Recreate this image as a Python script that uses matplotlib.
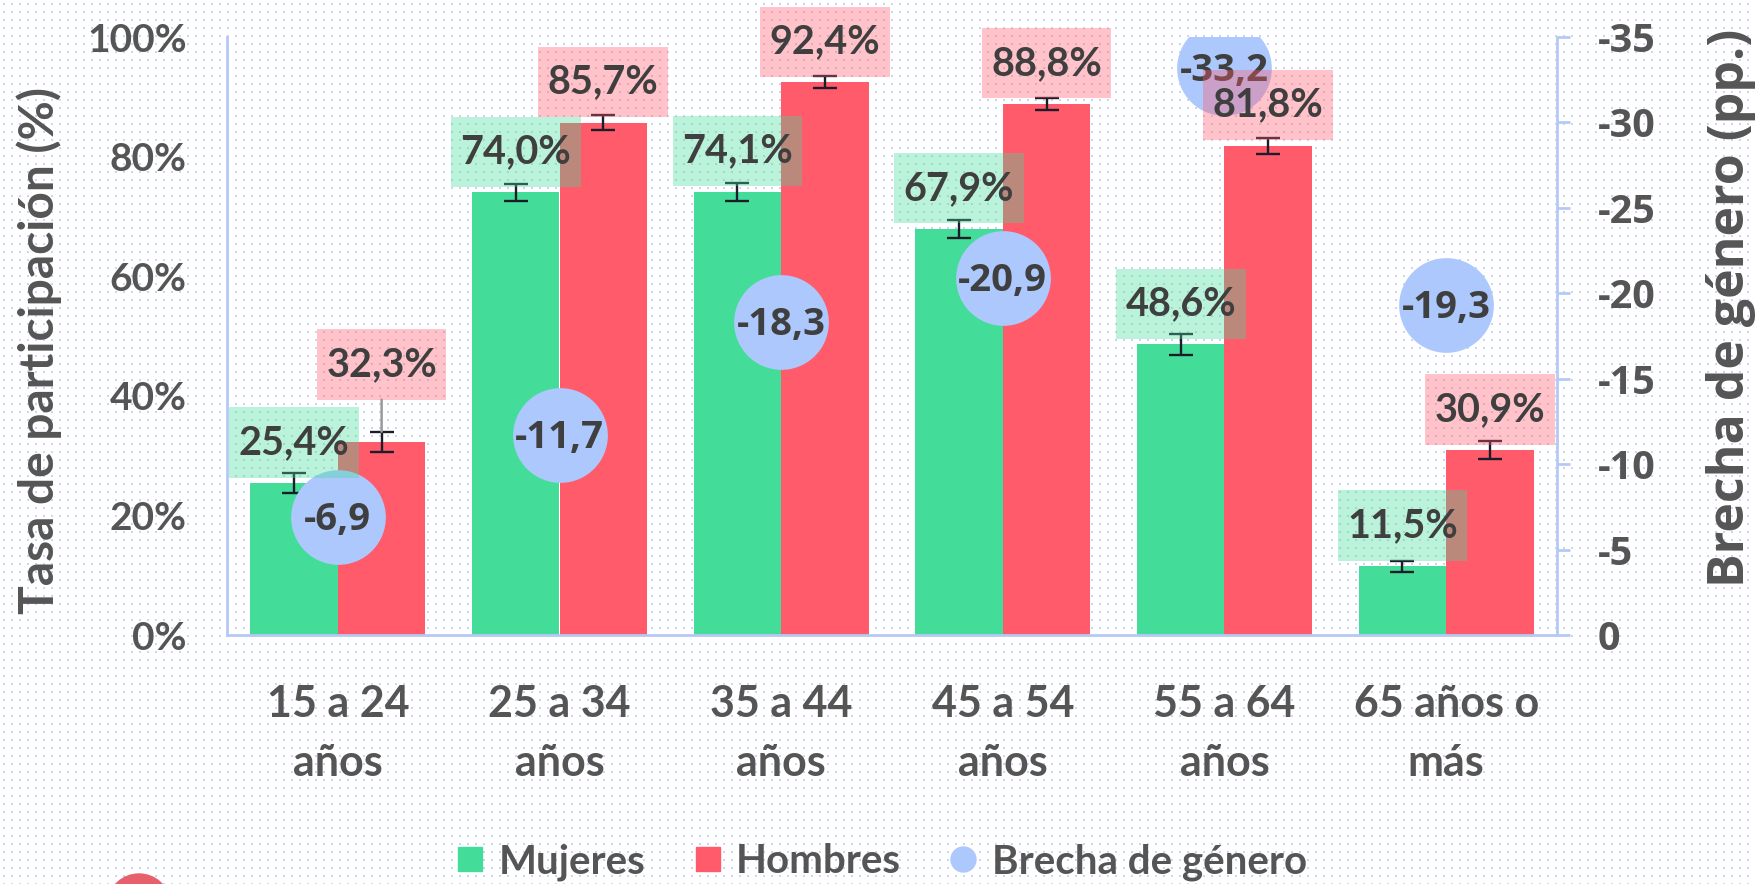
import numpy as np
import matplotlib
matplotlib.use("Agg")
import matplotlib.pyplot as plt
from matplotlib.lines import Line2D
from matplotlib.patches import Ellipse
from matplotlib.path import Path
from matplotlib import font_manager as fm

# ---------------- data ----------------
categories = ["15 a 24\naños", "25 a 34\naños", "35 a 44\naños",
              "45 a 54\naños", "55 a 64\naños", "65 años o\nmás"]
mujeres = [25.4, 74.0, 74.1, 67.9, 48.6, 11.5]
hombres = [32.3, 85.7, 92.4, 88.8, 81.8, 30.9]
err_mujeres = [1.7, 1.5, 1.5, 1.5, 1.7, 0.95]
err_hombres = [1.7, 1.25, 1.0, 1.0, 1.3, 1.5]
brecha = [-6.9, -11.7, -18.3, -20.9, -33.2, -19.3]
left_ticks = [0, 20, 40, 60, 80, 100]
right_ticks = [0, -5, -10, -15, -20, -25, -30, -35]
legend_labels = ["Mujeres", "Hombres", "Brecha de género"]

# label nudges (extra points upward) for repelled labels
nudge_hombres = {0: 19}

# ---------------- style ----------------
GREEN = "#43dd99"
RED = "#ff5b6b"
BLUE = "#adc8fd"
SPINE = "#b5c9f7"
TXT = "#3f3f3f"
TICK = "#555555"
SS = ["Lato", "DejaVu Sans"]


def bold_family(cands):
    for c in cands:
        try:
            p = fm.findfont(fm.FontProperties(family=c, weight="bold"),
                            fallback_to_default=False)
            if "bold" in p.lower():
                return c
        except Exception:
            pass
    return "DejaVu Sans"


NSB = [bold_family(["Noto Sans", "Open Sans", "Roboto"]), "DejaVu Sans"]


def label_box(x0, y0, width, height, mutation_size):
    padx = 0.24 * mutation_size
    pady = 0.42 * mutation_size
    x0 -= padx
    y0 -= pady
    w = width + 2 * padx
    h = height + 2 * pady
    return Path([(x0, y0), (x0 + w, y0), (x0 + w, y0 + h), (x0, y0 + h), (x0, y0)],
                closed=True)


W, H = 1756, 884
fig = plt.figure(figsize=(W / 100, H / 100), dpi=100)

# dotted background texture
bg = np.ones((H, W, 3))
dot = np.array([200, 214, 250]) / 255.0
for dy in range(2):
    for dx in range(2):
        bg[3 + dy::8, 3 + dx::8] = dot
bax = fig.add_axes([0, 0, 1, 1], zorder=-10)
bax.imshow(bg, interpolation="nearest", aspect="auto", extent=(0, W, H, 0))
bax.axis("off")
# cut-off logo blob bottom-left
bax.add_patch(Ellipse((139, 902), 60, 56, color="#e8606b", zorder=2))
bax.set_xlim(0, W)
bax.set_ylim(H, 0)

ax = fig.add_axes([227 / W, 1 - 635 / H, (1557 - 227) / W, (635 - 37) / H])
ax.patch.set_alpha(0)
x = np.arange(len(categories))
bw = 0.395

ax.bar(x - bw / 2, mujeres, bw, color=GREEN, zorder=2)
ax.bar(x + bw / 2, hombres, bw, color=RED, zorder=2)
ax.errorbar(x - bw / 2, mujeres, yerr=err_mujeres, fmt="none", ecolor="#1c1c2a",
            elinewidth=1.7, capsize=8.5, capthick=1.7, zorder=3)
ax.errorbar(x + bw / 2, hombres, yerr=err_hombres, fmt="none", ecolor="#1c1c2a",
            elinewidth=1.7, capsize=8.5, capthick=1.7, zorder=3)

ax.set_xlim(-0.5, len(categories) - 0.5)
ax.set_ylim(0, 100)
ax.set_yticks(left_ticks)
ax.set_yticklabels([f"{t}%" for t in left_ticks])
ax.set_xticks(x)
ax.set_xticklabels(categories, linespacing=1.58)
ax.tick_params(axis="y", length=0, pad=29, labelsize=28, labelcolor=TICK)
ax.tick_params(axis="x", length=0, pad=35, labelsize=31, labelcolor=TICK)
for lab in ax.get_yticklabels() + ax.get_xticklabels():
    lab.set_fontfamily(SS)
    lab.set_fontweight("bold")
for s in ["top", "right"]:
    ax.spines[s].set_visible(False)
for s in ["left", "bottom"]:
    ax.spines[s].set_color(SPINE)
    ax.spines[s].set_linewidth(2)
ax.set_ylabel("Tasa de participación (%)", fontsize=34.5, fontweight="bold",
              color=TICK, family=SS, va="center")
ax.yaxis.set_label_coords(-0.1414, 0.475)

ax2 = ax.twinx()
ax2.set_ylim(0, -35)
ax2.set_yticks(right_ticks)
ax2.set_yticklabels([str(t) for t in right_ticks])
ax2.tick_params(axis="y", length=9.5, width=2, color=SPINE, pad=20,
                labelsize=28.5, labelcolor=TICK)
for lab in ax2.get_yticklabels():
    lab.set_fontfamily(NSB)
    lab.set_fontweight("bold")
for s in ["top", "left", "bottom"]:
    ax2.spines[s].set_visible(False)
ax2.spines["right"].set_color(SPINE)
ax2.spines["right"].set_linewidth(2)
ax2.set_ylabel("Brecha de género (pp.)", fontsize=36, fontweight="bold",
               color=TICK, family=NSB, va="center", rotation=90)
ax2.yaxis.set_label_coords(1.131, 0.547)

# bubbles (gender gap) on right axis
ax2.scatter(x, brecha, s=4650, color=BLUE, zorder=2, linewidths=0)
for xi, g in zip(x, brecha):
    ax2.annotate(f"{g:.1f}".replace(".", ","), xy=(xi, g), xytext=(0, -2),
                 textcoords="offset points", ha="center", va="center",
                 fontsize=27.5, fontweight="bold", color=TXT, family=NSB, zorder=3)


# bar labels
def bar_label(xi, v, e, fc, extra=0):
    txt = f"{v:.1f}%".replace(".", ",")
    kw = {}
    if extra:
        kw["arrowprops"] = dict(arrowstyle="-", color="#9a9a9a", lw=1.8,
                                shrinkA=0, shrinkB=0)
        xy = (xi, v + e)
    else:
        xy = (xi, v)
    ax2.annotate(txt, xy=xy, xycoords=ax.transData, xytext=(0, 16 + extra),
                 textcoords="offset points", ha="center", va="bottom",
                 fontsize=28.5, fontweight="bold", color=TXT, family=SS, zorder=5,
                 bbox=dict(boxstyle=label_box, fc=fc, ec="none", alpha=0.36),
                 **kw)


for i in range(len(categories)):
    bar_label(x[i] - bw / 2, mujeres[i], err_mujeres[i], GREEN)
    bar_label(x[i] + bw / 2, hombres[i], err_hombres[i], RED,
              extra=nudge_hombres.get(i, 0))

# legend
handles = [
    Line2D([], [], marker="s", ls="", markersize=17, color=GREEN),
    Line2D([], [], marker="s", ls="", markersize=17, color=RED),
    Line2D([], [], marker="o", ls="", markersize=18, color=BLUE),
]
leg = fig.legend(handles, legend_labels, loc="center", bbox_to_anchor=(0.502, 22 / H),
                 ncol=3, frameon=False, handlelength=0.7,
                 handletextpad=0.35, columnspacing=1.2,
                 prop={"family": SS, "weight": "bold", "size": 29})
for t in leg.get_texts():
    t.set_color(TICK)

fig.savefig("out.png", dpi=100)
